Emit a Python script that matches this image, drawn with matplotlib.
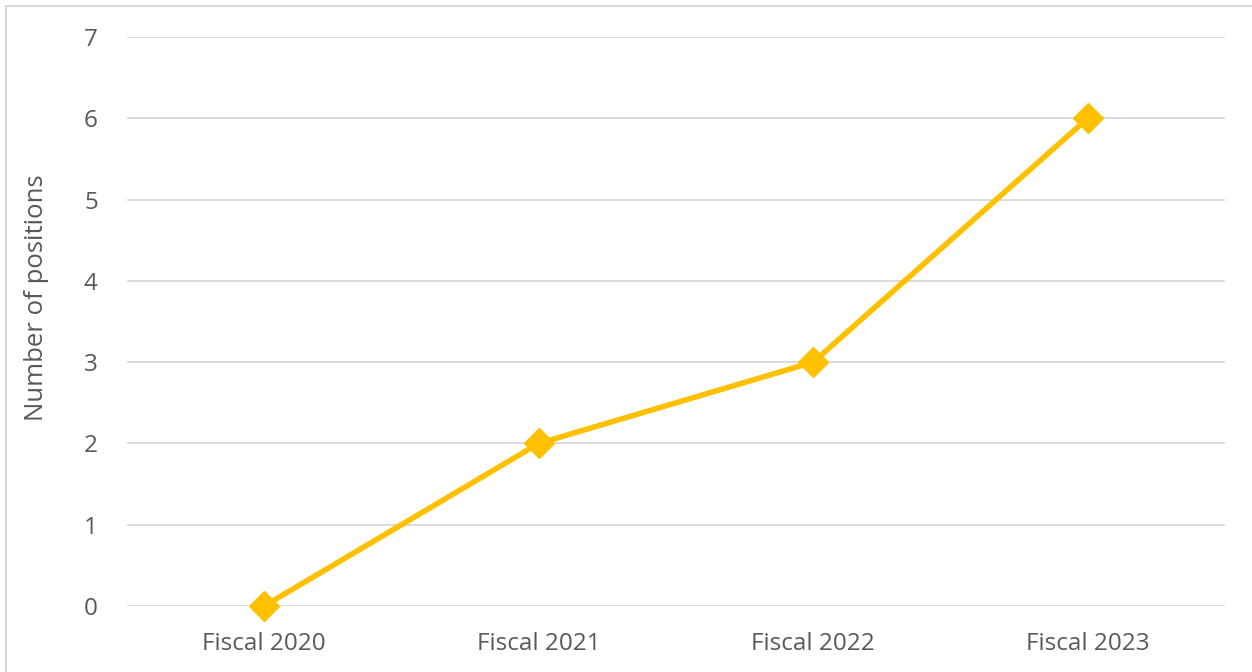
import matplotlib.pyplot as plt
from matplotlib.patches import Rectangle

# data
categories = ["Fiscal 2020", "Fiscal 2021", "Fiscal 2022", "Fiscal 2023"]
positions = [0, 2, 3, 6]
y_ticks = [0, 1, 2, 3, 4, 5, 6, 7]

text_color = "#595959"
grid_color = "#d9d9d9"
line_color = "#FFC000"

plt.rcParams["font.family"] = ["Open Sans", "DejaVu Sans"]

fig = plt.figure(figsize=(12.52, 6.72), dpi=100)
ax = fig.add_axes([127 / 1252, 1 - 606 / 672, 1098 / 1252, 569 / 672])

# chart border (light gray frame)
fig.patches.append(Rectangle((6 / 1252, -0.1), 1.2, (672 - 6) / 672 + 0.1,
                             transform=fig.transFigure, fill=False,
                             edgecolor=grid_color, linewidth=1.5))

x = list(range(len(categories)))
ax.plot(x, positions, color=line_color, linewidth=4, marker="D",
        markersize=15, markerfacecolor=line_color, markeredgecolor=line_color,
        zorder=3, clip_on=False)

ax.set_xlim(-0.5, len(categories) - 0.5)
ax.set_ylim(0, 7)
ax.set_yticks(y_ticks)
ax.set_xticks(x)
ax.set_xticklabels(categories)
ax.grid(axis="y", color=grid_color, linewidth=1.3)
ax.set_axisbelow(True)
for s in ax.spines.values():
    s.set_visible(False)
ax.tick_params(length=0, labelsize=17.5, colors=text_color)
ax.tick_params(axis="x", pad=19)
ax.tick_params(axis="y", pad=21)
ax.set_ylabel("Number of positions", fontsize=18.5, color=text_color)
ax.yaxis.set_label_coords(-0.071, 0.541)

fig.savefig("out.png", dpi=100)
